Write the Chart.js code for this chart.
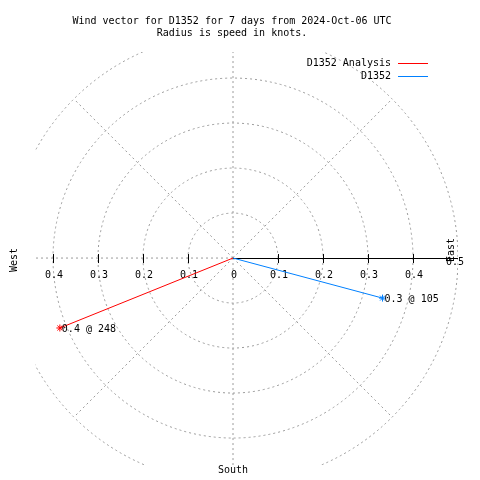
<!DOCTYPE html>
<html>
<head>
<meta charset="utf-8">
<script src="https://cdn.jsdelivr.net/npm/chart.js@4/dist/chart.umd.min.js"></script>
<style>body{margin:0;background:#fff}</style>
</head>
<body>
<canvas id="c" width="480" height="480"></canvas>
<script>
const titleLines = ['Wind vector for D1352 for 7 days from 2024-Oct-06 UTC', 'Radius is speed in knots.'];
const seriesNames = ['D1352 Analysis', 'D1352'];
const speeds = [0.415, 0.344];      // knots
const directions = [248, 105];      // compass degrees
const seriesColors = ['#ff0000', '#0080ff'];
const ringValues = [0.1, 0.2, 0.3, 0.4, 0.5];
const spokeAngles = [0, 45, 90, 135, 180, 225, 270, 315];
const tickValues = [-0.4, -0.3, -0.2, -0.1, 0, 0.1, 0.2, 0.3, 0.4, 0.5];
const tickLabels = ['0.4', '0.3', '0.2', '0.1', '0', '0.1', '0.2', '0.3', '0.4', '0.5'];

const FONT = '10px "DejaVu Sans Mono", monospace';

function toXY(speed, dir) {
  const a = dir * Math.PI / 180;
  return { x: speed * Math.sin(a), y: speed * Math.cos(a) };
}

const datasets = seriesNames.map((name, i) => {
  const end = toXY(speeds[i], directions[i]);
  return {
    label: name,
    data: [{ x: 0, y: 0 }, end],
    showLine: true,
    borderColor: seriesColors[i],
    backgroundColor: seriesColors[i],
    borderWidth: 1,
    pointStyle: 'star',
    pointRadius: [0, 3.5],
    pointBorderWidth: 1,
    pointBorderColor: seriesColors[i]
  };
});

const polarGrid = {
  id: 'polarGrid',
  beforeDatasetsDraw(chart) {
    const { ctx, chartArea: a, scales: { x, y } } = chart;
    const cx = x.getPixelForValue(0), cy = y.getPixelForValue(0);
    const unit = x.getPixelForValue(1) - cx;
    const outer = ringValues[ringValues.length - 1];
    ctx.save();
    ctx.beginPath();
    ctx.rect(a.left, a.top, a.right - a.left, a.bottom - a.top);
    ctx.clip();
    ctx.strokeStyle = '#9a9a9a';
    ctx.lineWidth = 1;
    ctx.setLineDash([2, 3]);
    ringValues.forEach(r => {
      ctx.beginPath();
      ctx.arc(cx, cy, r * unit, 0, Math.PI * 2);
      ctx.stroke();
    });
    spokeAngles.forEach(d => {
      if (d === 90) return;
      const p = toXY(outer, d);
      ctx.beginPath();
      ctx.moveTo(cx, cy);
      ctx.lineTo(x.getPixelForValue(p.x), y.getPixelForValue(p.y));
      ctx.stroke();
    });
    ctx.restore();

    // east axis and ticks
    ctx.save();
    ctx.strokeStyle = '#000';
    ctx.lineWidth = 1;
    ctx.beginPath();
    ctx.moveTo(cx, Math.round(cy) + 0.5);
    ctx.lineTo(x.getPixelForValue(0.5), Math.round(cy) + 0.5);
    ctx.stroke();
    tickValues.forEach(v => {
      if (v === 0 || v === 0.5) return;
      const px = Math.round(x.getPixelForValue(v)) + 0.5;
      ctx.beginPath();
      ctx.moveTo(px, cy - 4);
      ctx.lineTo(px, cy + 5);
      ctx.stroke();
    });
    ctx.fillStyle = '#000';
    ctx.font = FONT;
    ctx.textAlign = 'center';
    ctx.textBaseline = 'middle';
    tickValues.forEach((v, i) => {
      const px = x.getPixelForValue(v);
      if (v === 0.5) ctx.fillText(tickLabels[i], px - 3, cy + 4);
      else ctx.fillText(tickLabels[i], px + 1, cy + 17);
    });
    ctx.restore();
  },
  afterDraw(chart) {
    const { ctx, scales: { x, y } } = chart;
    const cx = x.getPixelForValue(0), cy = y.getPixelForValue(0);
    ctx.save();
    ctx.fillStyle = '#000';
    ctx.font = FONT;
    ctx.textBaseline = 'middle';

    // value labels at vector tips
    ctx.textAlign = 'left';
    seriesNames.forEach((n, i) => {
      const p = toXY(speeds[i], directions[i]);
      ctx.fillText(speeds[i].toFixed(1) + ' @ ' + directions[i],
        x.getPixelForValue(p.x) + 2, y.getPixelForValue(p.y) + 1);
    });

    // title
    ctx.textAlign = 'center';
    ctx.fillText(titleLines[0], 232, 21);
    ctx.fillText(titleLines[1], 232, 33);

    // compass labels
    ctx.fillText('South', cx, 470);
    ctx.save();
    ctx.translate(14, cy + 2);
    ctx.rotate(-Math.PI / 2);
    ctx.fillText('West', 0, 0);
    ctx.restore();
    ctx.save();
    ctx.translate(451, cy - 8);
    ctx.rotate(-Math.PI / 2);
    ctx.fillText('East', 0, 0);
    ctx.restore();

    // legend
    ctx.textAlign = 'right';
    seriesNames.forEach((n, i) => {
      const ly = 63 + i * 13;
      ctx.fillText(n, 391, ly);
      ctx.strokeStyle = seriesColors[i];
      ctx.lineWidth = 1;
      ctx.beginPath();
      ctx.moveTo(398, Math.round(ly) + 0.5);
      ctx.lineTo(428, Math.round(ly) + 0.5);
      ctx.stroke();
    });
    ctx.restore();
  }
};

new Chart(document.getElementById('c'), {
  type: 'scatter',
  data: { datasets },
  options: {
    responsive: false,
    animation: false,
    layout: { padding: { left: 35, right: 22, top: 52, bottom: 15 } },
    scales: {
      x: { type: 'linear', min: -0.44, max: 0.5, display: false },
      y: { type: 'linear', min: -0.46, max: 0.458, display: false }
    },
    plugins: { legend: { display: false }, tooltip: { enabled: false }, title: { display: false } }
  },
  plugins: [polarGrid]
});
</script>
</body>
</html>
